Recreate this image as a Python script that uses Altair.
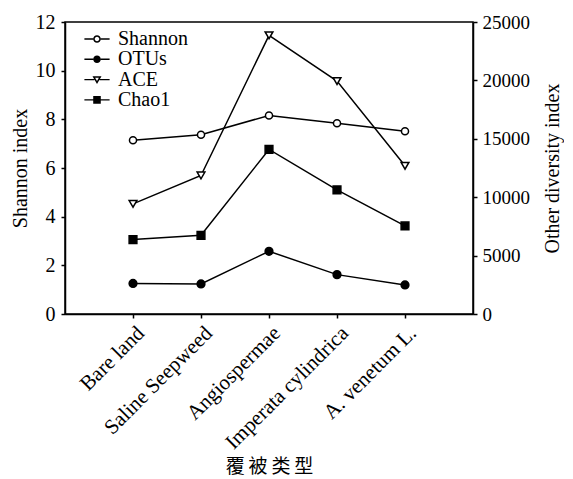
import altair as alt
import pandas as pd

categories = ["Bare land", "Saline Seepweed", "Angiospermae", "Imperata cylindrica", "A. venetum L."]
series_names = ["Shannon", "OTUs", "ACE", "Chao1"]
shannon = [7.14, 7.37, 8.16, 7.84, 7.51]
otus = [2620, 2570, 5370, 3370, 2490]
ace = [9430, 11860, 23860, 19940, 12690]
chao1 = [6370, 6740, 14090, 10630, 7540]

left_ticks = [0, 2, 4, 6, 8, 10, 12]
right_ticks = [0, 5000, 10000, 15000, 20000, 25000]

rows = []
for name, vals in zip(series_names, [shannon, otus, ace, chao1]):
    for c, v in zip(categories, vals):
        rows.append({"category": c, "series": name, "value": v})
df = pd.DataFrame(rows)
df_left = df[df.series == "Shannon"]
df_right = df[df.series != "Shannon"]

FONT = "Liberation Serif"
shape_range = ["circle", "circle", "triangle-down", "square"]
fill_range = ["white", "black", "white", "black"]

# legend glyphs drawn as filled outlines: line stub + marker
L = 1.4
T = 0.08
legend_shapes = [
    # Shannon: open circle (ring)
    f"M-{L},-{T}H-0.42V{T}H-{L}Z M0.42,-{T}H{L}V{T}H0.42Z "
    "M-0.42,0A0.42,0.42 0 1,1 0.42,0A0.42,0.42 0 1,1 -0.42,0Z "
    "M-0.25,0A0.25,0.25 0 1,0 0.25,0A0.25,0.25 0 1,0 -0.25,0Z",
    # OTUs: filled circle
    f"M-{L},-{T}H-0.42V{T}H-{L}Z M0.42,-{T}H{L}V{T}H0.42Z "
    "M-0.42,0A0.42,0.42 0 1,1 0.42,0A0.42,0.42 0 1,1 -0.42,0Z",
    # ACE: open triangle-down
    f"M-{L},-{T}H-0.29V{T}H-{L}Z M0.29,-{T}H{L}V{T}H0.29Z "
    "M-0.5,-0.36L0.5,-0.36L0,0.5Z M-0.21,-0.193L0,0.168L0.21,-0.193Z",
    # Chao1: filled square
    f"M-{L},-{T}H{L}V{T}H-{L}Z M-0.42,-0.42H0.42V0.42H-0.42Z",
]

x_enc = alt.X(
    "category:N",
    sort=categories,
    scale=alt.Scale(type="point", padding=1),
    axis=alt.Axis(
        title="覆\u2009被\u2009类\u2009型",
        titleFont="Noto Sans CJK SC",
        titleFontSize=19,
        titleFontWeight="normal",
        titleColor="black",
        titlePadding=5,
        labelAngle=-45,
        labelFont=FONT,
        labelFontSize=21,
        labelColor="black",
        labelPadding=4,
        tickSize=4,
        tickColor="black",
        domainColor="black",
        domainWidth=1.5,
        tickWidth=1.5,
        grid=False,
    ),
)

y_left = alt.Y(
    "value:Q",
    scale=alt.Scale(domain=[0, 12], nice=False),
    axis=alt.Axis(
        orient="left",
        values=left_ticks,
        title="Shannon index",
        titleFont=FONT,
        titleFontSize=20,
        titleFontWeight="normal",
        titleColor="black",
        titlePadding=5,
        labelFont=FONT,
        labelFontSize=20,
        labelColor="black",
        labelPadding=6,
        tickSize=4,
        tickColor="black",
        tickWidth=1.5,
        domainColor="black",
        domainWidth=1.5,
        grid=False,
    ),
)

y_right = alt.Y(
    "value:Q",
    scale=alt.Scale(domain=[0, 25000], nice=False),
    axis=alt.Axis(
        orient="right",
        values=right_ticks,
        title="Other diversity index",
        titleAngle=270,
        titleBaseline="top",
        titleFont=FONT,
        titleFontSize=20,
        titleFontWeight="normal",
        titleColor="black",
        titlePadding=13,
        labelFont=FONT,
        labelFontSize=19,
        labelColor="black",
        labelPadding=5,
        tickSize=4,
        tickColor="black",
        tickWidth=1.5,
        domainColor="black",
        domainWidth=1.5,
        grid=False,
        format="d",
    ),
)

shape_enc = alt.Shape("series:N", scale=alt.Scale(domain=series_names, range=shape_range), legend=None)
fill_enc = alt.Fill("series:N", scale=alt.Scale(domain=series_names, range=fill_range), legend=None)

left_line = alt.Chart(df_left).mark_line(color="black", strokeWidth=1.5).encode(x=x_enc, y=y_left)
left_pts = alt.Chart(df_left).mark_point(stroke="black", strokeWidth=1.5, size=50, opacity=1).encode(
    x=x_enc, y=y_left, shape=shape_enc, fill=fill_enc
)
left = alt.layer(left_line, left_pts)

right_line = alt.Chart(df_right).mark_line(color="black", strokeWidth=1.5).encode(
    x=x_enc, y=y_right, detail="series:N"
)
right_pts = alt.Chart(df_right).mark_point(stroke="black", strokeWidth=1.5, size=60, opacity=1).encode(
    x=x_enc, y=y_right, shape=shape_enc, fill=fill_enc
)
right = alt.layer(right_line, right_pts)

legend_layers = []
for i, (name, path) in enumerate(zip(series_names, legend_shapes)):
    legend_layers.append(
        alt.Chart(df[df.series == name])
        .mark_point(size=0, filled=True, color="black", opacity=0)
        .encode(
            shape=alt.Shape(
                "series:N",
                scale=alt.Scale(domain=[name], range=[path]),
                legend=alt.Legend(
                    title=None,
                    orient="none",
                    legendX=22,
                    legendY=7 + i * 20.3,
                    padding=0,
                    symbolSize=324,
                    symbolOpacity=1,
                    symbolFillColor="black",
                    symbolStrokeWidth=0,
                    labelFont=FONT,
                    labelFontSize=20,
                    labelColor="black",
                    labelOffset=11,
                ),
            )
        )
    )

chart = (
    alt.layer(left, right, *legend_layers)
    .resolve_scale(y="independent", shape="independent", fill="independent")
    .properties(
        width=408,
        height=292,
        autosize=alt.AutoSizeParams(type="none"),
        padding={"left": 57, "top": 14, "right": 91, "bottom": 165},
        background="white",
    )
    .configure_view(stroke="black", strokeWidth=1.5)
)

chart.save("out.html", embed_options={"renderer": "svg", "actions": False})
